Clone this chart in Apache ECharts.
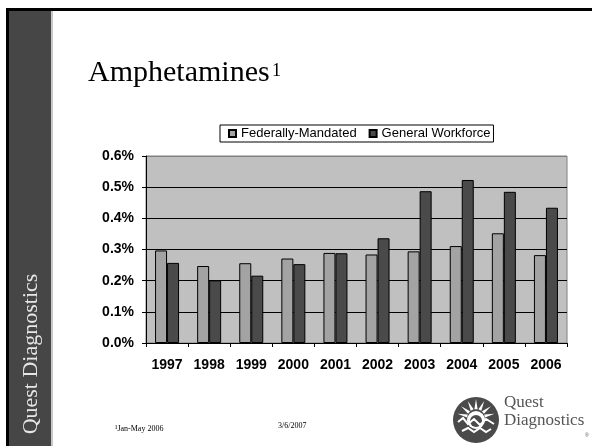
<!DOCTYPE html>
<html lang="en">
<head>
    <meta charset="UTF-8">
    <title>Amphetamines</title>
    <script type="text/javascript" src="https://cdn.jsdelivr.net/npm/echarts@6/dist/echarts.min.js"></script>
    <style>
        html, body { margin: 0; padding: 0; background: #fff; }
        #main { width: 592px; height: 446px; }
    </style>
</head>
<body>
    <div id="main"></div>
</body>

<script type="text/javascript">
    // years on the x axis
    var years = ['1997', '1998', '1999', '2000', '2001', '2002', '2003', '2004', '2005', '2006'];
    // positivity rate, in percent
    var federallyMandated = [0.297, 0.247, 0.256, 0.271, 0.289, 0.284, 0.294, 0.311, 0.352, 0.282];
    var generalWorkforce = [0.257, 0.201, 0.216, 0.253, 0.288, 0.336, 0.487, 0.523, 0.485, 0.434];
    var seriesNames = ['Federally-Mandated', 'General Workforce'];

    var myChart = echarts.init(document.getElementById('main'));
    var serif = '"Liberation Serif", "Times New Roman", serif';
    var sans = '"Liberation Sans", Arial, sans-serif';

    // slide frame + sidebar + logo
    var graphics = [
        { type: 'rect', shape: { x: 6, y: 8, width: 586, height: 3 }, style: { fill: '#000' }, z: 1 },
        { type: 'rect', shape: { x: 6, y: 8, width: 3, height: 438 }, style: { fill: '#000' }, z: 1 },
        { type: 'rect', shape: { x: 9, y: 11, width: 42, height: 435 }, style: { fill: '#464646' }, z: 1 },
        { type: 'rect', shape: { x: 51, y: 11, width: 2, height: 435 }, style: { fill: '#c8c8c8' }, z: 1 },
        {
            type: 'text', x: 31, y: 354, rotation: Math.PI / 2, z: 2,
            style: { text: 'Quest Diagnostics', fill: '#e6e6e6', font: '22px ' + serif, align: 'center', verticalAlign: 'middle' }
        },
        {
            type: 'text', x: 88, y: 73, z: 2,
            style: { text: 'Amphetamines', fill: '#000', font: '30px ' + serif, verticalAlign: 'middle' }
        },
        {
            type: 'text', x: 272, y: 71, z: 2,
            style: { text: '1', fill: '#000', font: '18px ' + serif, verticalAlign: 'middle' }
        },
        {
            type: 'text', x: 115, y: 429, z: 2,
            style: { text: '\u00b9Jan-May 2006', fill: '#000', font: '8px ' + serif, verticalAlign: 'middle' }
        },
        {
            type: 'text', x: 278, y: 426, z: 2,
            style: { text: '3/6/2007', fill: '#000', font: '8px ' + serif, verticalAlign: 'middle' }
        },
        {
            type: 'text', x: 504, y: 403, z: 2,
            style: { text: 'Quest', fill: '#555', font: '17px ' + serif, verticalAlign: 'middle' }
        },
        {
            type: 'text', x: 504, y: 421, z: 2,
            style: { text: 'Diagnostics', fill: '#555', font: '17px ' + serif, verticalAlign: 'middle' }
        },
        {
            type: 'text', x: 585, y: 433, z: 2,
            style: { text: '\u00ae', fill: '#555', font: '5px ' + sans }
        },
        // logo mark
        { type: 'circle', shape: { cx: 476, cy: 420, r: 23 }, style: { fill: '#4a4a4a' }, z: 2 },
        { type: 'circle', shape: { cx: 476, cy: 420, r: 9 }, style: { fill: '#fff' }, z: 3 },
        { type: 'circle', shape: { cx: 476, cy: 421, r: 6 }, style: { fill: '#4a4a4a' }, z: 3 },
        {
            type: 'polyline', z: 3,
            shape: { points: [[458, 422], [463, 418], [468, 424], [474, 419], [480, 425], [486, 419], [494, 424]] },
            style: { stroke: '#fff', lineWidth: 2, fill: null }
        },
        {
            type: 'polyline', z: 3,
            shape: { points: [[462, 431], [468, 428], [474, 432], [480, 428], [486, 432], [491, 429]] },
            style: { stroke: '#fff', lineWidth: 2, fill: null }
        }
    ];
    // sun rays
    for (var k = 0; k < 7; k++) {
        var a = Math.PI + (k + 0.5) * Math.PI / 7;
        graphics.push({
            type: 'polygon', z: 3,
            shape: {
                points: [
                    [476 + 9 * Math.cos(a - 0.18), 418 + 9 * Math.sin(a - 0.18)],
                    [476 + 19 * Math.cos(a), 418 + 19 * Math.sin(a)],
                    [476 + 9 * Math.cos(a + 0.18), 418 + 9 * Math.sin(a + 0.18)]
                ]
            },
            style: { fill: '#fff' }
        });
    }

    var option = {
        backgroundColor: '#fff',
        animation: false,
        textStyle: { fontFamily: sans },
        graphic: graphics,
        legend: {
            data: seriesNames,
            left: 220,
            top: 125,
            padding: [2, 3, 2, 8],
            itemGap: 12,
            itemWidth: 7,
            itemHeight: 7,
            icon: 'rect',
            backgroundColor: '#fff',
            borderColor: '#000',
            borderWidth: 1,
            borderRadius: 0,
            textStyle: { fontFamily: sans, fontSize: 13, color: '#000' }
        },
        grid: {
            left: 146,
            right: 25,
            top: 156,
            bottom: 103,
            show: true,
            backgroundColor: '#c0c0c0',
            borderColor: '#808080',
            borderWidth: 1
        },
        xAxis: {
            type: 'category',
            data: years,
            axisLine: { lineStyle: { color: '#000', width: 1 } },
            axisTick: { show: true, length: 4, lineStyle: { color: '#000' } },
            axisLabel: { color: '#000', fontWeight: 'bold', fontSize: 14, fontFamily: sans, margin: 15, interval: 0 }
        },
        yAxis: {
            type: 'value',
            min: 0,
            max: 0.6,
            interval: 0.1,
            axisLine: { show: true, lineStyle: { color: '#000', width: 1 } },
            axisTick: { show: true, length: 4, lineStyle: { color: '#000' } },
            axisLabel: {
                color: '#000', fontWeight: 'bold', fontSize: 14, fontFamily: sans, margin: 12,
                formatter: function (v) { return v.toFixed(1) + '%'; }
            },
            splitLine: {
                show: true,
                lineStyle: { color: ['#000', '#000', '#000', '#000', '#000', '#000', '#808080'], width: 1 }
            }
        },
        series: [
            {
                name: seriesNames[0],
                type: 'bar',
                data: federallyMandated,
                barWidth: 12,
                barGap: '0%',
                itemStyle: { color: '#a3a3a3', borderColor: '#000', borderWidth: 1 }
            },
            {
                name: seriesNames[1],
                type: 'bar',
                data: generalWorkforce,
                barWidth: 12,
                barGap: '0%',
                itemStyle: { color: '#4a4a4a', borderColor: '#000', borderWidth: 1 }
            }
        ]
    };
    myChart.setOption(option);
</script>
</html>
